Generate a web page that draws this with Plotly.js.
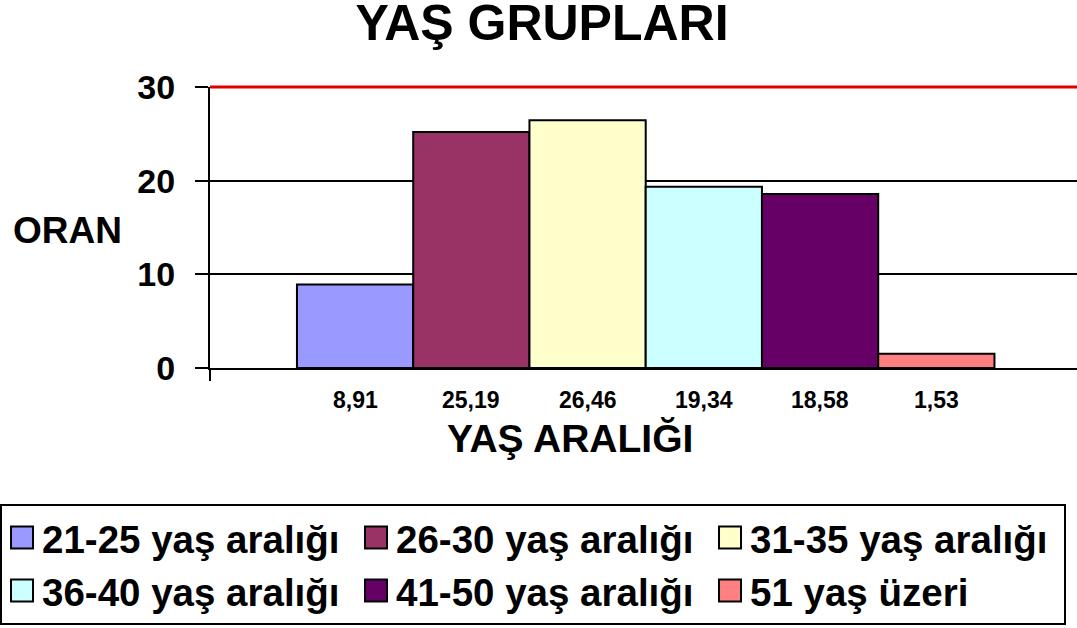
<!DOCTYPE html>
<html>
<head>
<meta charset="utf-8">
<script src="https://cdn.plot.ly/plotly-3.0.1.min.js"></script>
<style>html,body{margin:0;padding:0;background:#fff}#chart{width:1077px;height:628px}</style>
</head>
<body>
<div id="chart"></div>
<script>
// ---- data ----
var seriesNames = ["21-25 yaş aralığı", "26-30 yaş aralığı", "31-35 yaş aralığı", "36-40 yaş aralığı", "41-50 yaş aralığı", "51 yaş üzeri"];
var seriesValues = [8.91, 25.19, 26.46, 19.34, 18.58, 1.53];
var valueLabels = ["8,91", "25,19", "26,46", "19,34", "18,58", "1,53"];
var seriesColors = ["#9999FF", "#993366", "#FFFFCC", "#CCFFFF", "#660066", "#FF8080"];
var yTickVals = [0, 10, 20, 30];
var chartTitle = "YAŞ GRUPLARI";
var yTitle = "ORAN";
var xTitle = "YAŞ ARALIĞI";

var FONT = "Liberation Sans, Arial, Helvetica, sans-serif";

var traces = seriesNames.map(function (name, i) {
  return {
    type: "bar",
    name: name,
    x: [i],
    y: [seriesValues[i]],
    width: [1],
    marker: { color: seriesColors[i], line: { color: "#000", width: 2 } },
    hoverinfo: "name+y"
  };
});

var annotations = valueLabels.map(function (t, i) {
  return {
    x: i, y: 0, xref: "x", yref: "y",
    text: t, showarrow: false,
    yanchor: "middle", yshift: -32,
    font: { family: FONT, size: 23, color: "#000", weight: "bold" }
  };
});
annotations.push({
  xref: "paper", yref: "paper", x: (11 - 210) / 867, y: 0.488, xanchor: "left", yanchor: "middle",
  text: yTitle, showarrow: false,
  font: { family: FONT, size: 37, color: "#000", weight: "bold" }
});
annotations.push({
  xref: "paper", yref: "paper", x: (570 - 210) / 867, y: -(438 - 368) / 281, xanchor: "center", yanchor: "middle",
  text: xTitle, showarrow: false,
  font: { family: FONT, size: 39, color: "#000", weight: "bold" }
});

var layout = {
  width: 1077, height: 628,
  margin: { l: 210, r: 0, t: 87, b: 260, pad: 0 },
  paper_bgcolor: "#fff", plot_bgcolor: "#fff",
  showlegend: true,
  barmode: "overlay",
  title: {
    text: chartTitle, x: 542 / 1077, xref: "container", xanchor: "center",
    y: 1 - 22 / 628, yref: "container", yanchor: "middle",
    font: { family: FONT, size: 50, color: "#000", weight: "bold" }
  },
  xaxis: {
    range: [-1.248, 6.21], fixedrange: true,
    showgrid: false, zeroline: false, showticklabels: false, ticks: "",
    showline: true, linecolor: "#000", linewidth: 2
  },
  yaxis: {
    range: [0, 30], tickvals: yTickVals, fixedrange: true,
    showgrid: true, gridcolor: "#000", gridwidth: 2,
    zeroline: false,
    showline: true, linecolor: "#000", linewidth: 2,
    ticks: "outside", ticklen: 13, tickwidth: 2, tickcolor: "#000",
    ticklabelstandoff: 13,
    tickfont: { family: FONT, size: 34, color: "#000", weight: "bold" }
  },
  shapes: [
    { type: "line", xref: "paper", yref: "paper", x0: 0, x1: 1, y0: 1, y1: 1, line: { color: "#E00000", width: 3 }, layer: "above" },
    { type: "line", xref: "paper", yref: "paper", x0: 0, x1: 0, y0: 0, y1: -13 / 281, line: { color: "#000", width: 2 } }
  ],
  legend: {
    orientation: "h",
    x: -0.2422, xanchor: "left",
    y: -(504 - 368) / 281, yanchor: "top",
    bordercolor: "#000", borderwidth: 2, bgcolor: "#fff",
    entrywidth: 309, entrywidthmode: "pixels",
    font: { family: FONT, size: 38.5, color: "#000", weight: "bold" },
    traceorder: "normal"
  },
  annotations: annotations
};

function enlargeLegendSymbols() {
  var paths = document.querySelectorAll("#chart .legend .legendpoints path");
  paths.forEach(function (p) { p.setAttribute("d", "M11,11H-11V-11H11Z"); });
}

Plotly.newPlot("chart", traces, layout, { displayModeBar: false, staticPlot: true }).then(function (gd) {
  enlargeLegendSymbols();
  gd.on("plotly_afterplot", enlargeLegendSymbols);
});
</script>
</body>
</html>
